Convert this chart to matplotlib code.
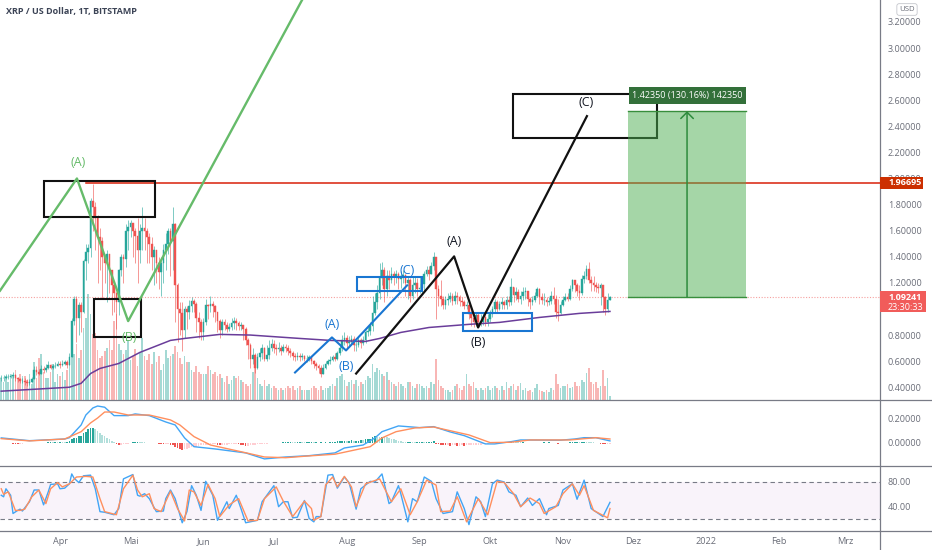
import matplotlib
matplotlib.use('Agg')
import matplotlib.pyplot as plt
from matplotlib.lines import Line2D
from matplotlib.patches import Rectangle

plt.rcParams['font.family'] = ['Open Sans', 'DejaVu Sans']

# daily candles, index 0 is 7 Mar 2021
closes = [
    .47, .47, .48, .48, .485, .49, .47, .46, .45, .45,
    .44, .43, .44, .46, .53, .52, .50, .54, .53, .55,
    .57, .55, .56, .56, .58, .57, .58, .59, .57, .63,
    .91, 1.08, .93, 1.03, .98, 1.37, 1.44, 1.47, 1.83, 1.78,
    1.70, 1.55, 1.52, 1.40, 1.35, 1.42, 1.30, 1.18, 1.12, 1.05,
    1.30, 1.40, 1.38, 1.60, 1.63, 1.66, 1.60, 1.56, 1.45, 1.60,
    1.62, 1.60, 1.55, 1.50, 1.40, 1.45, 1.35, 1.28, 1.35, 1.45,
    1.50, 1.60, 1.52, 1.65, 1.18, 1.00, .97, .84, 1.00, .98,
    1.02, 1.06, 1.04, .93, .90, .82, .90, 1.03, 1.02, 1.04,
    1.02, .98, .91, .84, .90, .88, .85, .86, .89, .91,
    .89, .87, .88, .85, .76, .72, .62, .65, .55, .63,
    .66, .70, .62, .65, .70, .73, .70, .69, .70, .68,
    .71, .70, .68, .66, .64, .63, .64, .63, .64, .62,
    .62, .63, .60, .58, .56, .55, .50, .55, .58, .60,
    .61, .63, .62, .66, .70, .76, .78, .74, .75, .77,
    .72, .72, .76, .74, .76, .82, .83, .87, .97, 1.05,
    1.12, 1.24, 1.30, 1.15, 1.25, 1.22, 1.27, 1.25, 1.27, 1.23,
    1.25, 1.26, 1.20, 1.22, 1.10, 1.18, 1.20, 1.15, 1.16, 1.19,
    1.27, 1.30, 1.27, 1.33, 1.40, 1.15, 1.10, 1.08, 1.03, 1.07,
    1.08, 1.10, 1.06, 1.10, 1.09, 1.06, 1.05, 1.02, 1.03, .96,
    .93, .90, .95, .90, .90, .94, .90, .92, .96, 1.00,
    1.05, 1.00, 1.04, 1.05, 1.03, 1.07, 1.05, 1.17, 1.11, 1.13,
    1.08, 1.10, 1.13, 1.14, 1.08, 1.05, 1.07, 1.10, 1.15, 1.09,
    1.07, 1.07, 1.05, 1.06, 1.10, 1.08, .98, .97, 1.03, 1.07,
    1.09, 1.08, 1.15, 1.22, 1.18, 1.14, 1.12, 1.23, 1.25, 1.31,
    1.22, 1.20, 1.18, 1.17, 1.16, 1.18, 1.09, 1.00, 1.07, 1.09,
]
highs = [
    .49, .49, .50, .50, .50, .52, .50, .48, .47, .47,
    .47, .46, .46, .48, .56, .56, .54, .57, .56, .58,
    .60, .58, .58, .59, .60, .60, .61, .61, .61, .66,
    .93, 1.10, 1.10, 1.05, 1.05, 1.38, 1.50, 1.50, 1.85, 1.96,
    1.82, 1.72, 1.62, 1.55, 1.42, 1.45, 1.42, 1.30, 1.20, 1.13,
    1.31, 1.42, 1.42, 1.65, 1.68, 1.68, 1.66, 1.62, 1.70, 1.65,
    1.78, 1.70, 1.62, 1.58, 1.55, 1.48, 1.45, 1.40, 1.40, 1.50,
    1.58, 1.62, 1.62, 1.78, 1.66, 1.20, 1.05, 1.05, 1.02, 1.02,
    1.07, 1.09, 1.08, 1.05, .98, .92, .93, 1.08, 1.04, 1.10,
    1.06, 1.03, .98, .92, .92, .92, .90, .89, .93, .94,
    .93, .91, .90, .88, .86, .78, .74, .70, .66, .66,
    .70, .73, .71, .72, .76, .77, .76, .73, .75, .72,
    .73, .73, .72, .70, .68, .66, .67, .66, .66, .65,
    .65, .65, .64, .61, .59, .58, .57, .58, .60, .62,
    .64, .65, .66, .68, .73, .80, .82, .80, .79, .80,
    .79, .76, .79, .78, .79, .84, .86, .90, 1.10, 1.12,
    1.18, 1.35, 1.36, 1.32, 1.30, 1.30, 1.32, 1.29, 1.30, 1.28,
    1.29, 1.30, 1.27, 1.25, 1.24, 1.25, 1.25, 1.24, 1.25, 1.22,
    1.29, 1.33, 1.33, 1.36, 1.44, 1.38, 1.18, 1.22, 1.10, 1.10,
    1.12, 1.13, 1.12, 1.14, 1.13, 1.11, 1.09, 1.07, 1.06, 1.04,
    .99, .97, .98, .97, .96, .98, .97, .96, .99, 1.02,
    1.08, 1.07, 1.06, 1.09, 1.07, 1.10, 1.10, 1.24, 1.17, 1.17,
    1.15, 1.14, 1.17, 1.17, 1.14, 1.09, 1.10, 1.13, 1.17, 1.16,
    1.12, 1.12, 1.09, 1.09, 1.14, 1.17, 1.11, 1.08, 1.06, 1.10,
    1.12, 1.12, 1.18, 1.23, 1.22, 1.20, 1.18, 1.26, 1.29, 1.34,
    1.36, 1.25, 1.25, 1.21, 1.20, 1.20, 1.18, 1.10, 1.12, 1.10,
]
lows = [
    .45, .45, .46, .46, .47, .47, .45, .44, .43, .43,
    .42, .41, .42, .43, .46, .49, .49, .50, .51, .52,
    .54, .54, .54, .55, .56, .55, .56, .57, .55, .57,
    .63, .88, .75, .80, .82, .97, 1.22, 1.35, 1.40, 1.60,
    1.45, 1.20, 1.30, 1.08, 1.20, 1.05, 1.12, .95, .98, .85,
    .95, 1.25, 1.20, 1.32, 1.45, 1.55, 1.40, 1.35, 1.20, 1.35,
    1.45, 1.45, 1.35, 1.35, 1.30, 1.18, 1.20, 1.15, 1.10, 1.20,
    1.30, 1.42, 1.25, 1.30, .90, .75, .80, .68, .78, .85,
    .92, .98, .98, .82, .78, .76, .76, .88, .92, .98,
    .94, .90, .82, .78, .80, .84, .82, .83, .84, .85,
    .84, .84, .84, .76, .72, .62, .55, .58, .51, .54,
    .60, .62, .60, .60, .62, .68, .66, .65, .67, .65,
    .67, .67, .65, .63, .61, .60, .61, .60, .61, .60,
    .59, .60, .58, .55, .53, .51, .48, .50, .54, .57,
    .58, .60, .60, .61, .65, .68, .72, .70, .71, .72,
    .68, .68, .71, .70, .72, .74, .79, .80, .83, .95,
    1.00, 1.08, 1.18, 1.05, 1.10, 1.15, 1.20, 1.18, 1.20, 1.15,
    1.16, 1.20, 1.10, 1.08, 1.05, 1.08, 1.12, 1.10, 1.12, 1.12,
    1.14, 1.25, 1.22, 1.27, 1.30, .92, 1.02, 1.02, 1.00, 1.00,
    1.03, 1.05, 1.03, 1.04, 1.04, 1.02, 1.02, 1.00, 1.00, .92,
    .87, .86, .87, .87, .87, .88, .87, .87, .90, .94,
    .97, .97, .99, 1.00, 1.00, 1.00, 1.02, 1.03, 1.05, 1.07,
    1.05, 1.04, 1.07, 1.08, 1.02, 1.00, 1.03, 1.05, 1.09, 1.04,
    1.04, 1.03, 1.02, 1.03, 1.04, 1.04, .93, .91, .96, 1.02,
    1.06, 1.06, 1.07, 1.14, 1.13, 1.10, 1.07, 1.11, 1.20, 1.23,
    1.20, 1.14, 1.14, 1.13, 1.12, 1.03, .98, .95, .98, 1.07,
]
volumes = [
    22, 18, 24, 18, 26, 24, 30, 22, 26, 24,
    24, 20, 26, 16, 38, 22, 42, 46, 28, 22,
    22, 28, 36, 18, 26, 24, 28, 20, 30, 36,
    68, 46, 56, 42, 50, 72, 82, 106, 86, 66,
    67, 50, 42, 44, 49, 52, 60, 50, 79, 86,
    56, 50, 46, 50, 60, 40, 44, 51, 34, 48,
    62, 44, 40, 46, 36, 48, 38, 44, 30, 36,
    50, 42, 44, 46, 54, 48, 42, 36, 44, 38,
    38, 30, 28, 34, 28, 26, 26, 26, 34, 30,
    26, 28, 24, 26, 22, 18, 24, 16, 20, 24,
    22, 24, 20, 18, 16, 14, 16, 28, 32, 22,
    16, 14, 20, 14, 16, 12, 14, 12, 10, 12,
    10, 12, 14, 12, 14, 10, 12, 14, 10, 10,
    10, 10, 12, 14, 12, 10, 14, 10, 12, 12,
    14, 16, 14, 22, 24, 26, 20, 14, 18, 20,
    16, 20, 14, 18, 16, 20, 24, 22, 36, 28,
    32, 30, 26, 24, 28, 20, 18, 16, 14, 18,
    16, 14, 12, 18, 18, 14, 12, 16, 16, 14,
    12, 14, 12, 18, 16, 41, 20, 14, 12, 10,
    10, 8, 10, 14, 16, 12, 10, 14, 26, 16,
    14, 18, 12, 10, 12, 10, 12, 14, 10, 12,
    14, 12, 10, 14, 10, 18, 12, 14, 16, 10,
    14, 17, 10, 12, 9, 10, 8, 12, 16, 10,
    9, 8, 10, 8, 12, 10, 26, 16, 12, 14,
    14, 16, 12, 13, 18, 14, 14, 20, 18, 27,
    32, 18, 16, 18, 12, 14, 30, 14, 22, 4,
]
macd_hist = [
    -.003, -.004, -.004, -.002, -.003, -.006, -.008, -.012, -.01, -.006,
    -.004, -.003, -.003, -.002, -.001, -.001, .001, .002, .002, .003,
    .004, .008, .006, .01, .008, .012, .01, .008, .012, .014,
    .03, .04, .045, .055, .06, .08, .095, .115, .125, .125,
    .115, .1, .085, .07, .055, .04, .03, .02, .006, -.005,
    -.02, -.018, -.012, -.01, -.008, -.004, .005, .008, .01, .008,
    .006, .005, .002, -.002, -.001, -.004, -.004, -.007, -.008, -.012,
    -.012, -.012, -.016, -.02, -.035, -.045, -.05, -.055, -.05, -.05,
    -.042, -.036, -.03, -.03, -.026, -.02, -.016, -.015, -.014, -.012,
    -.012, -.012, -.014, -.018, -.018, -.016, -.014, -.012, -.01, -.01,
    -.01, -.012, -.016, -.02, -.024, -.022, -.02, -.018, -.016, -.012,
    -.008, -.006, -.006, -.005, -.004, -.003, -.002, -.002, -.001, -.001,
    .004, .005, .006, .006, .005, .004, .005, .006, .005, .004,
    .004, .005, .006, .004, .004, .003, .004, .003, .004, .003,
    .006, .008, .012, .014, .016, .018, .018, .016, .02, .022,
    .018, .02, .02, .024, .022, .03, .03, .036, .05, .06,
    .052, .05, .05, .048, .046, .04, .035, .03, .024, .02,
    .015, .012, .01, .01, .012, .01, .008, .008, .01, .012,
    .01, .01, .012, .012, .014, -.008, -.012, -.015, -.018, -.02,
    -.02, -.022, -.02, -.02, -.022, -.022, -.02, -.022, -.02, -.02,
    -.02, -.02, -.02, -.018, -.016, -.012, -.008, -.005, -.002, .002,
    .004, .006, .008, .01, .008, .01, .008, .008, .007, .006,
    .005, .004, .004, .003, .002, .001, -.002, -.003, -.002, .002,
    .003, .004, .003, .004, .003, .002, -.004, -.006, -.004, -.002,
    .002, .003, .005, .008, .01, .01, .008, .012, .012, .01,
    .008, .006, .004, .002, .001, -.006, -.01, -.012, -.012, -.01,
]

ma_days = [0, 29, 34, 38, 42, 50, 59, 72, 78, 93, 106, 114, 127, 140, 155, 161,
           170, 182, 199, 212, 229, 246, 259]
ma_vals = [.37, .40, .43, .505, .544, .582, .667, .759, .774, .805, .80, .79, .774,
           .759, .751, .774, .82, .858, .882, .897, .935, .966, .981]

macd_days = [0, 12, 27, 29, 34, 36, 39, 41, 44, 48, 54, 57, 63, 70, 74, 78, 82, 91,
             104, 112, 121, 131, 142, 146, 154, 159, 162, 169, 178, 184, 191, 197,
             206, 210, 217, 221, 238, 244, 248, 253, 259]
macd_vals = [.042, .019, .033, .044, .15, .233, .292, .308, .298, .228, .228, .242,
             .228, .175, .15, .042, -.031, -.05, -.083, -.133, -.117, -.106, -.083,
             -.042, -.017, .042, .094, .142, .128, .136, .092, .061, -.008, -.008,
             .011, .025, .023, .033, .044, .044, .017]
signal_days = [0, 12, 27, 34, 38, 41, 44, 48, 54, 63, 72, 76, 82, 89, 102, 112, 121,
               131, 142, 157, 162, 168, 176, 184, 199, 208, 217, 225, 242, 253, 259]
signal_vals = [.036, .017, .033, .094, .167, .208, .258, .258, .233, .233, .192, .15,
               .053, -.017, -.073, -.117, -.123, -.108, -.094, -.031, .042, .094,
               .125, .133, .067, .003, .006, .025, .025, .044, .033]

stoch_k_days = [0, 1, 2, 4, 5, 7, 8, 9, 12, 14, 16, 18, 20, 21, 24, 25, 27, 29, 30, 31,
                33, 35, 38, 40, 42, 44, 48, 50, 52, 56, 58, 59, 61, 63, 66, 69, 70, 72,
                74, 77, 79, 81, 83, 85, 87, 90, 92, 96, 97, 100, 102, 104, 109, 111,
                116, 118, 120, 122, 124, 126, 129, 131, 133, 134, 136, 139, 141, 143,
                146, 148, 151, 153, 157, 159, 162, 165, 166, 169, 170, 173, 175, 177,
                180, 183, 185, 188, 192, 194, 197, 199, 202, 204, 206, 209, 211, 214,
                216, 219, 221, 224, 226, 229, 232, 233, 237, 239, 243, 245, 248, 251,
                256, 259]
stoch_k = [58.5, 56, 69, 58.5, 29, 34, 36, 33, 48, 67, 67, 43, 64, 76, 77, 69, 70, 77,
           93, 86, 79, 90, 91, 69, 32, 31, 27, 37, 85, 92, 58.5, 57, 61, 53, 32, 33, 53,
           67, 53, 14, 32, 74, 58.5, 34, 81, 58.5, 18, 48, 37, 58.5, 37, 14, 18, 48, 74,
           40, 48, 48, 22, 23, 50, 21, 15.5, 24, 24, 91, 92, 70, 88, 79, 36, 69, 81, 80,
           93, 45, 48, 74, 61, 15.5, 53, 48, 88, 81, 53, 29, 32, 64, 37, 11, 56, 48, 24,
           77, 83, 80, 64, 58.5, 40, 54, 42, 53, 27, 37, 42, 67, 77, 52, 83, 37, 24, 47]
stoch_d_days = [0, 1, 3, 6, 8, 10, 13, 16, 19, 21, 24, 26, 29, 32, 36, 39, 42, 44, 49,
                52, 56, 58, 60, 63, 65, 68, 72, 75, 78, 80, 82, 85, 88, 91, 93, 97, 101,
                105, 109, 112, 117, 120, 124, 129, 132, 133, 136, 138, 141, 143, 146,
                149, 151, 155, 161, 166, 170, 174, 177, 181, 185, 187, 191, 194, 198,
                203, 207, 211, 214, 218, 221, 225, 229, 231, 236, 239, 243, 246, 248,
                252, 258, 259]
stoch_d = [69, 60, 64, 34, 34, 36, 56, 67, 45, 69, 79, 72, 77, 88, 89, 88, 53, 32, 27,
           69, 91, 67, 56, 61, 37, 32, 65, 37, 17, 67, 64, 42, 76, 53, 24, 43, 53, 17,
           18, 53, 72, 49, 24, 49, 37, 18, 24, 75, 88, 72, 89, 72, 40, 77, 85, 48, 69,
           27, 48, 83, 75, 32, 33, 56, 15.5, 53, 27, 81, 79, 61, 40, 54, 45, 29, 40, 61,
           77, 58.5, 74, 34, 22, 37]

# drawings on the price chart (day index, price)
green_wave_days = [-.53, 32.2, 54, 128]
green_wave_vals = [1.14, 2.00, .907, 3.368]
blue_wave_days = [125, 140.7, 146.7, 172.7]
blue_wave_vals = [.513, .782, .682, 1.181]
black_wave_days = [151, 192.7, 202.9, 249.2]
black_wave_vals = [.505, 1.403, .858, 2.478]
black_boxes = [(18.2, 65.4, 1.703, 1.979), (39.5, 59.5, .782, 1.073), (217.8, 279, 2.309, 2.647)]
blue_boxes = [(151.4, 179.1, 1.135, 1.242), (196.5, 225.9, .828, .966)]

month_days = [25, 55, 86, 116, 147, 178, 208, 239, 269, 300, 331, 359]
month_labels = ['Apr', 'Mai', 'Jun', 'Jul', 'Aug', 'Sep', 'Okt', 'Nov', 'Dez', '2022', 'Feb', 'Mrz']
price_ticks = [.4, .6, .8, 1.2, 1.4, 1.6, 1.8, 2.0, 2.2, 2.4, 2.6, 2.8, 3.0, 3.2]

last_price = 1.09241
level_price = 1.96695
target_price = 2.51591

UP, DOWN = '#26a69a', '#ef5350'
AXIS = '#787b86'
TEXT = '#6a6d78'
W, H = 932, 550
XLIM = (-.53, 373.9)


def panel(top, bottom):
    return fig.add_axes([0, 1 - bottom / H, 880 / W, (bottom - top) / H])


def style(ax):
    for s in ax.spines.values():
        s.set_visible(False)
    ax.set_xlim(*XLIM)
    ax.set_xticks([])
    ax.yaxis.tick_right()
    ax.tick_params(axis='y', length=0, pad=5.7, labelsize=6.5, labelcolor=TEXT)
    ax.patch.set_visible(False)


fig = plt.figure(figsize=(W / 100, H / 100), dpi=100)
ax = panel(0, 399.5)
ax_vol = ax.twinx()
ax_macd = panel(400.5, 465.5)
ax_stoch = panel(466.5, 530.5)

days = list(range(len(closes)))
opens = [closes[0]] + closes[:-1]
colors = [UP if c >= o else DOWN for o, c in zip(opens, closes)]

# volume sits behind the candles
ax_vol.bar(days, volumes, width=.72, color=colors, alpha=.42, linewidth=0)
ax_vol.set_ylim(0, 399.5)
ax_vol.set_yticks([])
ax_vol.set_zorder(1)
ax.set_zorder(2)

ax.vlines(days, lows, highs, colors=colors, linewidth=.7, alpha=.6, zorder=2)
ax.bar(days, [c - o for o, c in zip(opens, closes)], bottom=opens, width=.72,
       color=colors, edgecolor=colors, linewidth=.3, zorder=3)
ax.plot(ma_days, ma_vals, color='#6a3d9a', linewidth=1.1, zorder=4)

ax.axhline(last_price, color='#ef5350', linewidth=.8, linestyle=(0, (1, 1.5)), alpha=.55, zorder=1)
ax.plot([36, XLIM[1]], [level_price, level_price], color='#d8210a', linewidth=1.1, zorder=4)

for x0, x1, y0, y1 in black_boxes:
    ax.add_patch(Rectangle((x0, y0), x1 - x0, y1 - y0, fill=False, edgecolor='#111111', linewidth=1.5, zorder=5))
for x0, x1, y0, y1 in blue_boxes:
    ax.add_patch(Rectangle((x0, y0), x1 - x0, y1 - y0, fill=False, edgecolor='#1976d2', linewidth=1.5, zorder=5))
ax.plot(green_wave_days, green_wave_vals, color='#66bb6a', linewidth=1.7, zorder=6)
ax.plot(blue_wave_days, blue_wave_vals, color='#1976d2', linewidth=1.5, zorder=6)
ax.plot(black_wave_days, black_wave_vals, color='#111111', linewidth=1.6, zorder=6)

# long position tool
ax.add_patch(Rectangle((266.7, last_price), 50.2, target_price - last_price, facecolor='#4caf50',
                       alpha=.5, linewidth=0, zorder=7))
ax.plot([266.7, 316.9], [last_price, last_price], color='#388e3c', linewidth=1, zorder=8)
ax.plot([266.7, 316.9], [target_price, target_price], color='#388e3c', linewidth=1, zorder=8)
ax.annotate('', xy=(291.8, target_price), xytext=(291.8, last_price), zorder=8,
            arrowprops=dict(arrowstyle='->,head_length=.45,head_width=.45', color='#2e8b3d',
                            linewidth=1.1, shrinkA=0, shrinkB=0))
ax.add_patch(Rectangle((267.2, 2.571), 49.7, .13, facecolor='#33703a', linewidth=0, zorder=9))
ax.text(292, 2.635, '1.42350 (130.16%) 142350', color='white', fontsize=6.5, ha='center',
        va='center', zorder=10)

for x, y, s, c in [(32.7, 2.12, '(A)', '#66bb6a'), (54.5, .78, '(B)', '#66bb6a'),
                   (140.7, .88, '(A)', '#1976d2'), (146.7, .56, '(B)', '#1976d2'),
                   (172.7, 1.295, '(C)', '#1976d2'), (192.7, 1.52, '(A)', '#131722'),
                   (202.9, .745, '(B)', '#131722'), (248.8, 2.58, '(C)', '#131722')]:
    ax.text(x, y, s, color=c, fontsize=9, ha='center', va='center', zorder=10)

ax.set_ylim(.306, 3.368)
style(ax)
ax_vol.set_xlim(*XLIM)
ax_vol.axis('off')
ax.set_yticks(price_ticks)
ax.set_yticklabels(['%.5f' % p for p in price_ticks])

# boxes on the price scale
ytrans = ax.get_yaxis_transform()
for p, s, c, x1, y0, y1 in [(level_price, '1.96695', '#cc2f00', 923, 1.92, 2.012),
                            (last_price, None, '#f15c5a', 926, .977, 1.137)]:
    ax.add_patch(Rectangle((1, y0), (x1 - 880) / 880, y1 - y0, transform=ytrans, facecolor=c,
                           linewidth=0, clip_on=False, zorder=11))
    if s:
        ax.text(888 / 880, p, s, transform=ytrans, color='white', fontsize=6.5, weight='bold',
                va='center', clip_on=False, zorder=12)
ax.text(888 / 880, 1.087, '1.09241', transform=ytrans, color='white', fontsize=6.5, weight='bold',
        va='center', clip_on=False, zorder=12)
ax.text(888 / 880, 1.01, '23:30:33', transform=ytrans, color='white', fontsize=6.5,
        va='center', clip_on=False, zorder=12)

# macd
hist_colors = []
prev = 0
for v in macd_hist:
    if v >= 0:
        hist_colors.append('#26a69a' if v >= prev else '#b2dfdb')
    else:
        hist_colors.append('#ffcdd2' if v >= prev else '#ef5350')
    prev = v
ax_macd.bar(days, macd_hist, width=.7, color=hist_colors, linewidth=0)
ax_macd.plot(macd_days, macd_vals, color='#42a5f5', linewidth=1, solid_joinstyle='round')
ax_macd.plot(signal_days, signal_vals, color='#ff8f5e', linewidth=1, solid_joinstyle='round')
ax_macd.set_ylim(-.188, .354)
style(ax_macd)
ax_macd.set_yticks([0, .2])
ax_macd.set_yticklabels(['0.00000', '0.20000'])

# stochastic rsi
ax_stoch.axhspan(20, 80, color='#9c27b0', alpha=.05, linewidth=0)
for lvl in (20, 80):
    ax_stoch.axhline(lvl, color='#787b86', linewidth=.8, linestyle=(0, (4, 3)))
ax_stoch.plot(stoch_k_days, stoch_k, color='#42a5f5', linewidth=1, solid_joinstyle='round')
ax_stoch.plot(stoch_d_days, stoch_d, color='#ff8f5e', linewidth=1, solid_joinstyle='round')
ax_stoch.set_ylim(1.5, 105)
style(ax_stoch)
ax_stoch.set_yticks([40, 80])
ax_stoch.set_yticklabels(['40.00', '80.00'])
ax_stoch.set_xticks(month_days)
ax_stoch.set_xticklabels(month_labels, fontsize=6.6, color=TEXT)
ax_stoch.tick_params(axis='x', length=0, pad=5)

# frame lines
for yy in (399.5, 465.5, 530.5):
    fig.add_artist(Line2D([0, 1], [1 - yy / H] * 2, color=AXIS, linewidth=.9))
fig.add_artist(Line2D([880 / W] * 2, [0, 1], color=AXIS, linewidth=.9))

fig.text(6 / W, 1 - 11.5 / H, 'XRP / US Dollar, 1T, BITSTAMP', fontsize=6.5, weight='bold',
         color='#3c4456', va='center')
fig.text(907 / W, 1 - 9.5 / H, 'USD', fontsize=5.6, color=TEXT, ha='center', va='center',
         bbox=dict(boxstyle='round,pad=.3', facecolor='white', edgecolor='#c4c6cc', linewidth=.6))

fig.savefig('out.png', dpi=100)
